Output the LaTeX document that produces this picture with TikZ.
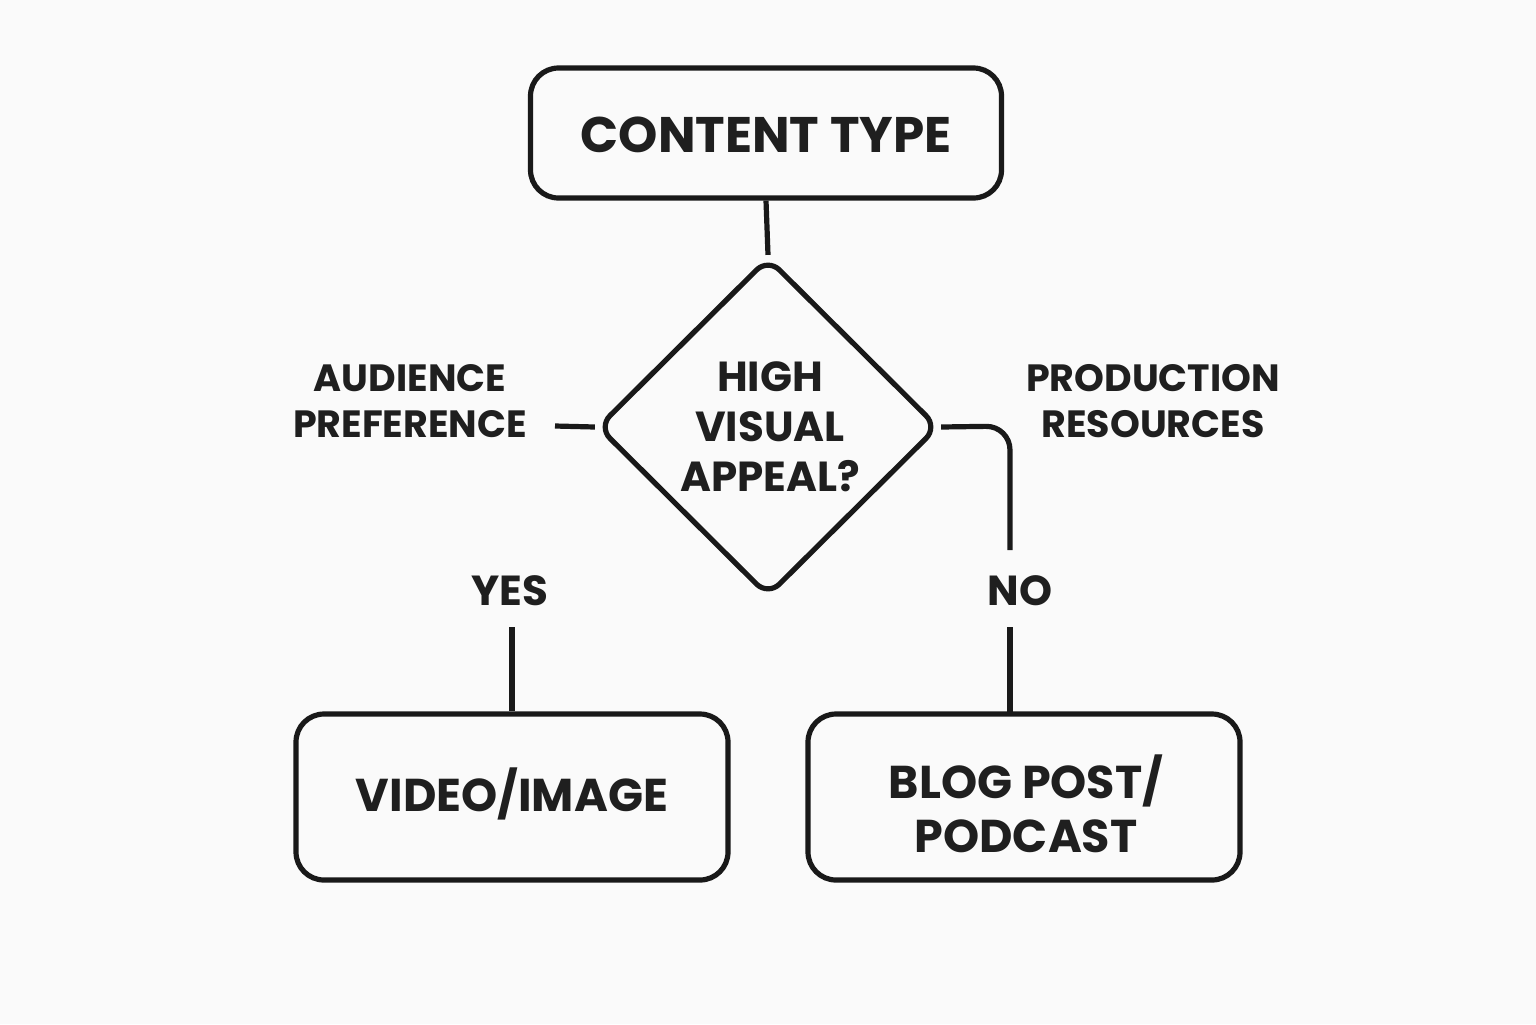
\documentclass[tikz,border=0pt]{standalone}
\usepackage{fontspec}
\setmainfont{Poppins}
\usetikzlibrary{shapes.geometric}
\begin{document}
\begin{tikzpicture}[x=0.5pt,y=-0.5pt,
  box/.style={draw=black!90,line width=2.6pt,rounded corners=14pt,inner sep=0pt},
  lbl/.style={font=\fontsize{19}{23}\selectfont\bfseries,text=black!88,align=center},
  con/.style={draw=black!90,line width=2.6pt}]
\fill[white!98!black] (0,0) rectangle (1536,1024);
\node[box,minimum width=235.5pt,minimum height=65pt] (top) at (766,133) {};
\node[font=\fontsize{25}{30}\selectfont\bfseries,text=black!88] at (766,135) {CONTENT TYPE};
\node[box,diamond,minimum width=170.5pt,minimum height=169.5pt,rounded corners=8pt] (dia) at (768,427) {};
\node[lbl,font=\fontsize{21}{25}\selectfont\bfseries] at (770,427) {HIGH\\VISUAL\\APPEAL?};
\node[box,minimum width=216pt,minimum height=83pt] (yesb) at (512,797) {};
\node[font=\fontsize{23}{28}\selectfont\bfseries,text=black!88] at (512,794) {VIDEO/IMAGE};
\node[box,minimum width=216pt,minimum height=83pt] (nob) at (1024,797) {};
\node[lbl,font=\fontsize{23}{27}\selectfont\bfseries] at (1026,804) {BLOG POST/\\PODCAST};
\node[lbl] (aud) at (410,401) {AUDIENCE\\PREFERENCE};
\node[lbl] (prod) at (1153,401) {PRODUCTION\\RESOURCES};
\node[lbl,font=\fontsize{21}{25}\selectfont\bfseries] (yes) at (510,591) {YES};
\node[lbl,font=\fontsize{21}{25}\selectfont\bfseries] (no) at (1020,591) {NO};
\coordinate (audend) at (555,426);
\coordinate (noup) at (1010,550);
\draw[con] (top.south) -- (dia.north);
\draw[con] (audend) -- (dia.west);
\draw[con,rounded corners=12pt] (dia.east) -- (1010,426) -- (noup);
\draw[con] (512,627) -- (yesb.north);
\draw[con] (1010,627) -- (1010,714);
\end{tikzpicture}
\end{document}
